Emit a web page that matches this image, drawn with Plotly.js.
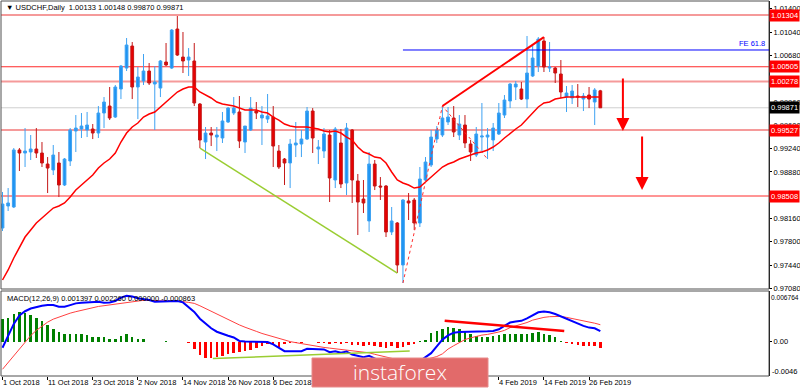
<!DOCTYPE html>
<html><head><meta charset="utf-8">
<script src="https://cdn.plot.ly/plotly-3.0.1.min.js"></script>
<style>html,body{margin:0;padding:0;background:#fff;overflow:hidden}#chart{width:800px;height:389px}</style>
</head><body><div id="chart"></div>
<script>
// ---------- data ----------
const dates = ["2018-10-01","2018-10-02","2018-10-03","2018-10-04","2018-10-05","2018-10-08","2018-10-09","2018-10-10","2018-10-11","2018-10-12",
"2018-10-15","2018-10-16","2018-10-17","2018-10-18","2018-10-19","2018-10-22","2018-10-23","2018-10-24","2018-10-25","2018-10-26",
"2018-10-29","2018-10-30","2018-10-31","2018-11-01","2018-11-02","2018-11-05","2018-11-06","2018-11-07","2018-11-08","2018-11-09",
"2018-11-12","2018-11-13","2018-11-14","2018-11-15","2018-11-16","2018-11-19","2018-11-20","2018-11-21","2018-11-22","2018-11-23",
"2018-11-26","2018-11-27","2018-11-28","2018-11-29","2018-11-30","2018-12-03","2018-12-04","2018-12-05","2018-12-06","2018-12-07",
"2018-12-10","2018-12-11","2018-12-12","2018-12-13","2018-12-14","2018-12-17","2018-12-18","2018-12-19","2018-12-20","2018-12-21",
"2018-12-24","2018-12-26","2018-12-27","2018-12-28","2018-12-31","2019-01-02","2019-01-03","2019-01-04","2019-01-07","2019-01-08",
"2019-01-09","2019-01-10","2019-01-11","2019-01-14","2019-01-15","2019-01-16","2019-01-17","2019-01-18","2019-01-21","2019-01-22",
"2019-01-23","2019-01-24","2019-01-25","2019-01-28","2019-01-29","2019-01-30","2019-01-31","2019-02-01","2019-02-04","2019-02-05",
"2019-02-06","2019-02-07","2019-02-08","2019-02-11","2019-02-12","2019-02-13","2019-02-14","2019-02-15","2019-02-18","2019-02-19",
"2019-02-20","2019-02-21","2019-02-22","2019-02-25","2019-02-26","2019-02-27","2019-02-28"];

const openP = [0.98013,0.98353,0.98338,0.99219,0.99172,0.99188,0.99234,0.99172,0.99002,0.98910,
0.99018,0.98678,0.99049,0.99512,0.99543,0.99528,0.99543,0.99481,0.99790,0.99898,
0.99728,1.00161,1.00485,1.00825,1.00192,1.00285,1.00439,1.00238,1.00176,1.00578,
1.00485,1.01088,1.00655,1.00609,1.00594,0.99929,0.99342,0.99481,0.99419,0.99404,
0.99651,0.99790,0.99806,0.99342,0.99528,0.99821,0.99713,0.99697,0.99728,0.99203,
0.99079,0.99018,0.99296,0.99311,0.99388,0.99821,0.99234,0.99203,0.99450,0.98755,
0.99327,0.98709,0.99528,0.98740,0.98461,0.98122,0.99002,0.98662,0.98662,0.97952,
0.98091,0.97442,0.98431,0.98446,0.98091,0.98755,0.98987,0.99388,0.99450,0.99651,
0.99713,0.99450,0.99605,0.99311,0.99141,0.99419,0.99419,0.99373,0.99466,0.99759,
0.99976,1.00192,1.00161,1.00006,1.00362,1.00516,1.00903,1.00485,1.00485,1.00393,
1.00037,1.00022,1.00053,1.00006,1.00068,0.99960,1.00133];

const highP = [0.98570,0.98631,0.99249,0.99249,0.99558,0.99450,0.99558,0.99342,0.99110,0.99296,
0.99188,0.99095,0.99558,0.99759,0.99790,0.99806,0.99620,0.99898,1.00037,1.00192,
1.00223,1.00532,1.00949,1.00887,1.00501,1.00702,1.00563,1.00516,1.00609,1.00872,
1.01088,1.01289,1.01042,1.00794,1.00872,0.99945,0.99574,0.99574,0.99574,0.99806,
0.99883,1.00037,1.00053,0.99589,1.00037,0.99960,0.99898,1.00084,0.99898,0.99296,
0.99095,0.99388,0.99651,0.99528,0.99883,0.99867,0.99373,0.99558,0.99528,0.99574,
0.99543,0.99636,0.99543,0.98848,0.98755,0.99188,0.99064,0.98801,0.98678,0.98338,
0.98106,0.98461,0.98554,0.98477,0.98956,0.99110,0.99528,0.99589,0.99898,0.99883,
0.99898,0.99759,0.99759,0.99373,0.99574,0.99945,0.99558,0.99636,0.99945,1.00068,
1.00254,1.00285,1.00269,1.00980,1.00841,1.00964,1.00964,1.00887,1.00501,1.00609,
1.00207,1.00223,1.00238,1.00099,1.00192,1.00176,1.00148];

const lowP = [0.97967,0.98276,0.98322,0.98894,0.98956,0.99064,0.99095,0.98956,0.98554,0.98832,
0.98492,0.98662,0.98971,0.99188,0.99404,0.99419,0.99388,0.99404,0.99558,0.99682,
0.99713,1.00006,1.00439,1.00006,0.99697,1.00223,1.00223,0.99528,1.00037,1.00516,
1.00470,1.00671,1.00408,1.00362,0.99898,0.99249,0.99079,0.99280,0.99203,0.99327,
0.99636,0.99759,0.99249,0.99172,0.99512,0.99697,0.99296,0.99636,0.98956,0.98925,
0.98678,0.98631,0.99110,0.99110,0.99373,0.99172,0.99002,0.99095,0.98415,0.98631,
0.98631,0.98523,0.98400,0.97905,0.98245,0.97952,0.98600,0.98446,0.97874,0.97905,
0.97318,0.97164,0.98137,0.97983,0.98029,0.98724,0.98956,0.99327,0.99419,0.99605,
0.99419,0.99373,0.99249,0.99049,0.99110,0.99172,0.99079,0.99203,0.99450,0.99713,
0.99867,0.99991,0.99991,0.99867,1.00346,1.00424,1.00424,1.00424,1.00254,1.00022,
0.99806,0.99929,0.99883,0.99821,0.99867,0.99605,0.99870];

const closeP = [0.98384,0.98400,0.99219,0.99172,0.99203,0.99234,0.99172,0.99018,0.98940,0.99141,
0.98678,0.99079,0.99528,0.99558,0.99589,0.99605,0.99481,0.99790,0.99960,0.99713,
1.00192,1.00516,1.00841,1.00192,1.00346,1.00439,1.00254,1.00269,1.00594,1.00532,
1.01072,1.00686,1.00594,1.00655,0.99945,0.99373,0.99481,0.99450,0.99450,0.99667,
0.99867,0.99867,0.99358,0.99589,0.99867,0.99790,0.99759,0.99744,0.99280,0.98956,
0.99018,0.99311,0.99327,0.99388,0.99821,0.99404,0.99265,0.99466,0.98786,0.99543,
0.98693,0.99558,0.98755,0.98415,0.98400,0.99002,0.98662,0.98647,0.97952,0.98122,
0.97442,0.98446,0.98400,0.98091,0.98770,0.99033,0.99419,0.99528,0.99713,0.99728,
0.99497,0.99620,0.99327,0.99188,0.99466,0.99435,0.99450,0.99558,0.99790,0.99991,
1.00238,1.00238,1.00006,1.00408,1.00640,1.00933,1.00501,1.00501,1.00408,1.00115,
1.00099,1.00130,1.00037,1.00053,1.00006,1.00146,0.99871];

const maLine = [0.97210,0.97365,0.97550,0.97720,0.97874,0.97983,0.98091,0.98168,0.98245,0.98322,
0.98353,0.98400,0.98492,0.98600,0.98678,0.98755,0.98832,0.98940,0.99018,0.99079,
0.99172,0.99342,0.99481,0.99574,0.99636,0.99728,0.99775,0.99806,0.99883,0.99945,
1.00037,1.00115,1.00161,1.00192,1.00192,1.00115,1.00068,1.00022,0.99960,0.99929,
0.99914,0.99898,0.99867,0.99837,0.99837,0.99837,0.99806,0.99790,0.99728,0.99682,
0.99620,0.99589,0.99574,0.99574,0.99574,0.99558,0.99543,0.99512,0.99497,0.99512,
0.99481,0.99419,0.99373,0.99265,0.99188,0.99157,0.99110,0.99095,0.99018,0.98879,
0.98755,0.98709,0.98678,0.98631,0.98647,0.98724,0.98801,0.98879,0.98956,0.99002,
0.99033,0.99079,0.99110,0.99141,0.99172,0.99188,0.99219,0.99265,0.99327,0.99404,
0.99481,0.99543,0.99605,0.99697,0.99790,0.99883,0.99945,0.99960,1.00006,1.00022,
1.00037,1.00037,1.00037,1.00037,1.00037,1.00037,1.00037];

const macdMain = [-0.00082,0.00078,0.00237,0.00351,0.00406,0.00442,0.00465,0.00479,0.00488,0.00488,
0.00465,0.00465,0.00488,0.00511,0.00520,0.00524,0.00524,0.00534,0.00520,0.00524,
0.00543,0.00588,0.00611,0.00602,0.00579,0.00570,0.00556,0.00534,0.00534,0.00543,
0.00543,0.00543,0.00524,0.00465,0.00397,0.00306,0.00237,0.00178,0.00132,0.00100,
0.00078,0.00055,0.00009,0.00000,0.00000,0.00000,0.00000,-0.00005,-0.00036,-0.00082,
-0.00128,-0.00128,-0.00128,-0.00128,-0.00096,-0.00096,-0.00096,-0.00105,-0.00141,-0.00128,
-0.00150,-0.00132,-0.00173,-0.00190,-0.00210,-0.00190,-0.00230,-0.00260,-0.00290,-0.00300,
-0.00340,-0.00330,-0.00310,-0.00300,-0.00260,-0.00210,-0.00155,-0.00064,0.00027,0.00082,
0.00119,0.00128,0.00128,0.00128,0.00128,0.00132,0.00137,0.00141,0.00164,0.00210,
0.00255,0.00269,0.00278,0.00310,0.00347,0.00392,0.00401,0.00392,0.00369,0.00337,
0.00301,0.00269,0.00242,0.00210,0.00187,0.00178,0.001397];

const macdSignal = [-0.00370,-0.00280,-0.00180,-0.00090,-0.00010,0.00080,0.00150,0.00210,0.00260,0.00300,
0.00330,0.00360,0.00380,0.00400,0.00420,0.00440,0.00460,0.00470,0.00480,0.00490,
0.00500,0.00520,0.00530,0.00540,0.00550,0.00552,0.00552,0.00547,0.00543,0.00543,
0.00543,0.00543,0.00534,0.00524,0.00511,0.00479,0.00442,0.00397,0.00360,0.00328,
0.00296,0.00260,0.00223,0.00192,0.00160,0.00137,0.00109,0.00087,0.00064,0.00041,
0.00023,0.00000,-0.00014,-0.00027,-0.00041,-0.00059,-0.00068,-0.00078,-0.00087,-0.00096,
-0.00105,-0.00114,-0.00123,-0.00132,-0.00141,-0.00150,-0.00170,-0.00190,-0.00210,-0.00230,
-0.00250,-0.00260,-0.00270,-0.00270,-0.00260,-0.00240,-0.00220,-0.00200,-0.00164,-0.00100,
-0.00055,-0.00009,0.00027,0.00050,0.00073,0.00087,0.00096,0.00109,0.00128,0.00150,
0.00187,0.00210,0.00232,0.00255,0.00287,0.00310,0.00324,0.00333,0.00337,0.00337,
0.00324,0.00310,0.00292,0.00278,0.00264,0.00246,0.00226];

const macdHist = [0.00297,0.00315,0.00374,0.00397,0.00388,0.00351,0.00315,0.00269,0.00223,0.00169,
0.00123,0.00100,0.00100,0.00100,0.00100,0.00087,0.00055,0.00055,0.00055,0.00041,
0.00041,0.00078,0.00100,0.00064,0.00041,0.00032,-0.00005,-0.00008,-0.00005,0.00005,
-0.00005,-0.00010,-0.00010,-0.00020,-0.00105,-0.00173,-0.00219,-0.00219,-0.00205,-0.00187,
-0.00164,-0.00150,-0.00141,-0.00128,-0.00114,-0.00082,-0.00059,-0.00036,-0.00050,-0.00068,
-0.00036,-0.00023,-0.00014,-0.00014,-0.00005,-0.00010,-0.00020,-0.00020,-0.00030,-0.00014,
-0.00030,-0.00020,-0.00040,-0.00050,-0.00060,-0.00040,-0.00060,-0.00070,-0.00080,-0.00060,
-0.00090,-0.00073,-0.00040,-0.00027,0.00005,0.00027,0.00119,0.00141,0.00173,0.00200,
0.00187,0.00173,0.00128,0.00105,0.00073,0.00064,0.00064,0.00073,0.00082,0.00096,
0.00105,0.00105,0.00096,0.00105,0.00119,0.00128,0.00105,0.00082,0.00059,0.00014,
-0.00018,-0.00032,-0.00041,-0.00064,-0.00064,-0.00064,-0.000863];

const xTickDates = ["2018-10-01","2018-10-11","2018-10-23","2018-11-02","2018-11-14","2018-11-26","2018-12-06","2019-02-04","2019-02-14","2019-02-26"];
const xTickText  = ["1 Oct 2018","11 Oct 2018","23 Oct 2018","2 Nov 2018","14 Nov 2018","26 Nov 2018","6 Dec 2018","4 Feb 2019","14 Feb 2019","26 Feb 2019"];
// price-scale labels that remain visible (the others sit under the level tags)
const yTickVals = [1.01400, 1.01040, 1.00680, 0.99960, 0.99600, 0.99240, 0.98880, 0.98160, 0.97800, 0.97440, 0.97080];

const thickLevels = [1.01304, 1.00278, 0.99527];
const thinLevels  = [1.00505, 0.98508];
const currentPrice = 0.99871;
const fe618Level = 1.00764;
const header = "\u25BC USDCHF,Daily  1.00133 1.00148 0.99870 0.99871";
const macdHeader = "MACD(12,26,9) 0.001397 0.002260 0.000000 -0.000863";
const macdScaleText = ["0.006764","0.00","-0.0046"];
const macdScaleVals = [0.006764, 0, -0.0046];

// drawn objects (bar index / value anchors)
const greenTrendIdx = [35, 70];      // lows
const zigzagIdx = [71, 78, 86];      // low, high, low
const redTrendIdx = [78, 96];        // highs
const feStartIdx = 71;
const arrowIdx = [110.0, 113.4];
const arrowTip = [0.99512, 0.98601];
const arrowLen = [54, 55];
const macdRedTrend = {i:[78.4, 99.6], v:[0.00279, 0.00142]};
const macdGreenTrend = {i:[37.3, 72.2], v:[-0.00227, -0.00125]};

// ---------- geometry ----------
const W = 800, H = 389;
const M = {l:1, r:31, t:1, b:13};
const plotH = H - M.t - M.b;                  // 375
const plotW = W - M.l - M.r;                  // 768
const py = px => (H - M.b - px) / plotH;      // pixel row -> paper y
const pxX = px => (px - M.l) / plotW;         // pixel col -> paper x
const barW = 5.64;
const xRange = [-1.5/barW, (plotW-1.5)/barW];
const mainBotPx = 289, macdTopPx = 291;
const yRange = [0.97071, 1.01521];
const y2Range = [-0.0046, 0.006764];

const FONT = "Liberation Sans, Arial, sans-serif";
const FS = 7.5;

const traces = [];
traces.push({
  type:'candlestick', x:dates, open:openP, high:highP, low:lowP, close:closeP,
  xaxis:'x', yaxis:'y', whiskerwidth:0,
  increasing:{line:{color:'#3ea2f2', width:1}, fillcolor:'#1e94f2'},
  decreasing:{line:{color:'#c41818', width:1}, fillcolor:'#e80000'},
  hoverinfo:'skip', showlegend:false
});
traces.push({type:'scatter', mode:'lines', x:dates, y:maLine, xaxis:'x', yaxis:'y',
  line:{color:'#ff0000', width:1.5}, hoverinfo:'skip', showlegend:false});
traces.push({type:'scatter', mode:'lines', xaxis:'x', yaxis:'y',
  x:[dates[zigzagIdx[0]], dates[zigzagIdx[1]], dates[zigzagIdx[2]]],
  y:[lowP[zigzagIdx[0]], highP[zigzagIdx[1]], lowP[zigzagIdx[2]]],
  line:{color:'#ff3030', width:1, dash:'dot'}, hoverinfo:'skip', showlegend:false});

traces.push({type:'bar', x:dates, y:macdHist, xaxis:'x', yaxis:'y2', width:0.45,
  marker:{color: macdHist.map(v => v >= 0 ? '#008000' : '#ff0000'), line:{width:0}},
  hoverinfo:'skip', showlegend:false});
traces.push({type:'scatter', mode:'lines', x:dates, y:macdSignal, xaxis:'x', yaxis:'y2',
  line:{color:'#ff4040', width:1}, hoverinfo:'skip', showlegend:false});
traces.push({type:'scatter', mode:'lines', x:dates, y:macdMain, xaxis:'x', yaxis:'y2',
  line:{color:'#0000ff', width:2}, hoverinfo:'skip', showlegend:false});

const shapes = [];
// frames
shapes.push({type:'rect', xref:'paper', yref:'paper', x0:0, x1:1, y0:py(mainBotPx), y1:1,
  line:{color:'#505050', width:1}, layer:'above'});
shapes.push({type:'rect', xref:'paper', yref:'paper', x0:0, x1:1, y0:0, y1:py(macdTopPx),
  line:{color:'#505050', width:1}, layer:'above'});
// level lines
thickLevels.forEach(v => shapes.push({type:'line', xref:'paper', yref:'y', x0:0, x1:1, y0:v, y1:v,
  line:{color:'#f59a9a', width:2}, layer:'below'}));
thinLevels.forEach(v => shapes.push({type:'line', xref:'paper', yref:'y', x0:0, x1:1, y0:v, y1:v,
  line:{color:'#ff2a2a', width:1}, layer:'below'}));
shapes.push({type:'line', xref:'paper', yref:'y', x0:0, x1:1, y0:currentPrice, y1:currentPrice,
  line:{color:'#cfcfcf', width:1}, layer:'below'});
shapes.push({type:'line', xref:'x', yref:'y', x0:feStartIdx, x1:xRange[1], y0:fe618Level, y1:fe618Level,
  line:{color:'#0000ff', width:1}});
// trend lines
shapes.push({type:'line', xref:'x', yref:'y', x0:greenTrendIdx[0], x1:greenTrendIdx[1],
  y0:lowP[greenTrendIdx[0]], y1:lowP[greenTrendIdx[1]], line:{color:'#9acd32', width:1.5}});
shapes.push({type:'line', xref:'x', yref:'y', x0:redTrendIdx[0], x1:redTrendIdx[1],
  y0:highP[redTrendIdx[0]], y1:highP[redTrendIdx[1]], line:{color:'#ff0000', width:2}});
shapes.push({type:'line', xref:'x', yref:'y2', x0:macdRedTrend.i[0], x1:macdRedTrend.i[1],
  y0:macdRedTrend.v[0], y1:macdRedTrend.v[1], line:{color:'#ff0000', width:2.5}});
shapes.push({type:'line', xref:'x', yref:'y2', x0:macdGreenTrend.i[0], x1:macdGreenTrend.i[1],
  y0:macdGreenTrend.v[0], y1:macdGreenTrend.v[1], line:{color:'#9acd32', width:1.5}});
// logo box
shapes.push({type:'rect', xref:'paper', yref:'paper', x0:pxX(312), x1:pxX(488), y0:py(387), y1:py(358),
  fillcolor:'#e26a6a', line:{color:'#e88a8a', width:1}, layer:'above'});

const annotations = [];
const tag = (v, bg) => ({xref:'paper', yref:'y', x:1, y:v, xanchor:'left', yanchor:'middle',
  text:v.toFixed(5), showarrow:false, bgcolor:bg, borderpad:1, xshift:0,
  font:{family:FONT, size:FS, color:'#ffffff'}});
[...thickLevels, ...thinLevels].forEach(v => annotations.push(tag(v, '#ff0000')));
annotations.push(tag(currentPrice, '#000000'));
annotations.push({xref:'paper', yref:'y', x:1, y:fe618Level, xanchor:'right', yanchor:'bottom',
  xshift:-2, yshift:0, text:'FE 61.8', showarrow:false, font:{family:FONT, size:FS, color:'#0000ff'}});
annotations.push({xref:'paper', yref:'paper', x:pxX(4), y:py(7), xanchor:'left', yanchor:'middle',
  text:header, showarrow:false, font:{family:FONT, size:FS, color:'#000000'}});
annotations.push({xref:'paper', yref:'paper', x:pxX(5), y:py(298), xanchor:'left', yanchor:'middle',
  text:macdHeader, showarrow:false, font:{family:FONT, size:FS, color:'#000000'}});
annotations.push({xref:'paper', yref:'paper', x:1, y:py(297), xanchor:'left', yanchor:'middle', xshift:0,
  text:macdScaleText[0], showarrow:false, font:{family:FONT, size:6.6, color:'#000000'}});
annotations.push({xref:'paper', yref:'paper', x:1, y:py(371), xanchor:'left', yanchor:'middle', xshift:1,
  text:macdScaleText[2], showarrow:false, font:{family:FONT, size:FS, color:'#000000'}});
// date labels, left-aligned at their tick as in the original terminal
xTickDates.forEach((d, k) => annotations.push({xref:'x', yref:'paper', x:d, y:py(382), xanchor:'left',
  yanchor:'middle', xshift:-2, text:xTickText[k], showarrow:false, font:{family:FONT, size:FS, color:'#000000'}}));
arrowIdx.forEach((xi, k) => annotations.push({xref:'x', yref:'y', x:xi, y:arrowTip[k], ax:0, ay:-arrowLen[k],
  axref:'pixel', ayref:'pixel', text:'', showarrow:true, arrowhead:2, arrowsize:1.3, arrowwidth:2,
  arrowcolor:'#ff0000'}));
annotations.push({xref:'paper', yref:'paper', x:pxX(400), y:py(372), xanchor:'center', yanchor:'middle',
  text:'instaforex', showarrow:false, font:{family:'Open Sans, Lato, sans-serif', size:21, color:'#ffffff', weight:300}});

const layout = {
  width:W, height:H, margin:M, paper_bgcolor:'#ffffff', plot_bgcolor:'#ffffff',
  showlegend:false, hovermode:false, dragmode:false, bargap:0,
  font:{family:FONT, size:FS, color:'#000000'},
  xaxis:{type:'category', anchor:'y2', range:xRange, rangeslider:{visible:false},
    showgrid:false, zeroline:false, showline:false,
    tickmode:'array', tickvals:xTickDates, ticktext:xTickText, ticks:'outside', ticklen:3,
    tickcolor:'#000', showticklabels:false, fixedrange:true},
  yaxis:{domain:[py(mainBotPx), 1], range:yRange, side:'right', anchor:'x',
    showgrid:false, zeroline:false, showline:true, linecolor:'#000', linewidth:1,
    tickmode:'array', tickvals:yTickVals, ticktext:yTickVals.map(v => v.toFixed(5)),
    ticks:'outside', ticklen:2, tickcolor:'#000',
    tickfont:{family:FONT, size:FS}, fixedrange:true},
  yaxis2:{domain:[0, py(macdTopPx)], range:y2Range, side:'right', anchor:'x',
    showgrid:false, zeroline:false, showline:true, linecolor:'#000', linewidth:1,
    tickmode:'array', tickvals:[macdScaleVals[1]], ticktext:[macdScaleText[1]],
    ticks:'outside', ticklen:2, tickcolor:'#000', tickfont:{family:FONT, size:FS}, fixedrange:true},
  shapes:shapes, annotations:annotations
};

Plotly.newPlot('chart', traces, layout, {displayModeBar:false, staticPlot:true});
</script>
</body></html>
